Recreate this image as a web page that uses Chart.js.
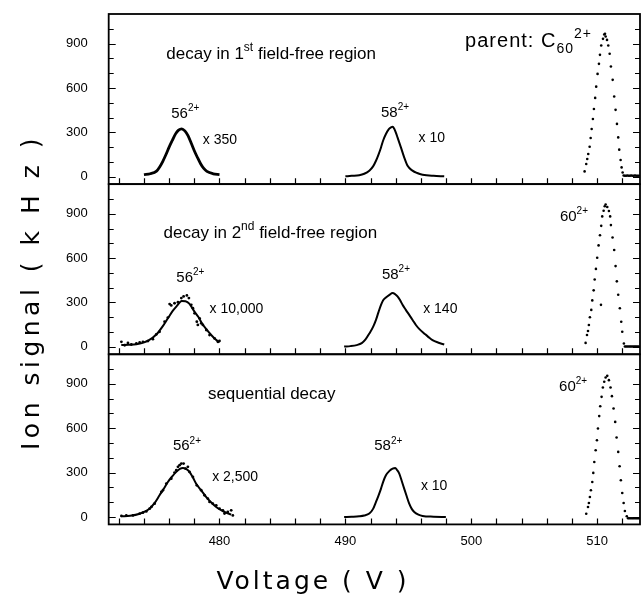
<!DOCTYPE html>
<html>
<head>
<meta charset="utf-8">
<script src="https://cdn.jsdelivr.net/npm/chart.js@4.4.1/dist/chart.umd.min.js"></script>
<style>
  html, body { margin: 0; padding: 0; background: #fff; }
  #wrap { width: 644px; height: 607px; }
</style>
</head>
<body>
<div id="wrap"><canvas id="ionChart" width="644" height="607"></canvas></div>
<script>
// axis ticks
const xTicks = [480, 490, 500, 510];
const xMinorTicks = [472, 474, 476, 478, 480, 482, 484, 486, 488, 490, 492, 494, 496, 498, 500, 502, 504, 506, 508, 510, 512];
const yTicks = [0, 300, 600, 900];
const yMinorTicks = [0, 100, 200, 300, 400, 500, 600, 700, 800, 900, 1000];

// top panel: decay in 1st field-free region
const top56Volt = [474.0, 474.5, 475.0, 475.25, 475.5, 475.75, 476.0, 476.25, 476.5, 476.75, 477.0, 477.25, 477.5, 477.75, 478.0, 478.25, 478.5, 478.75, 479.0, 479.5, 480.0];
const top56Sig  = [14, 20, 38, 66, 104, 150, 200, 245, 288, 315, 324, 310, 278, 228, 176, 130, 88, 56, 36, 20, 15];
const top58Volt = [490.0, 490.5, 491.1, 491.5, 491.9, 492.2, 492.43, 492.63, 492.83, 493.0, 493.22, 493.45, 493.62, 493.75, 493.88, 494.0, 494.14, 494.41, 494.67, 494.94, 495.33, 495.7, 496.13, 497.0, 497.85];
const top58Sig  = [3, 6, 10, 20, 41, 70, 108, 150, 198, 245, 289, 322, 334, 338, 325, 300, 266, 198, 131, 74, 41, 25, 14, 6, 3];
const top60Volt = [509.0, 509.13, 509.21, 509.29, 509.40, 509.48, 509.56, 509.66, 509.74, 509.84, 509.92, 510.03, 510.14, 510.22, 510.32, 510.46, 510.56, 510.62, 510.67, 510.78, 510.88, 510.99, 511.09, 511.23, 511.35, 511.46, 511.57, 511.67, 511.75, 511.86, 511.94, 512.02, 512.1, 512.2, 512.3, 512.4, 512.5, 512.6, 512.7, 512.8, 512.9, 513.0, 513.1, 513.2, 513.3];
const top60Sig  = [36, 86, 120, 154, 203, 262, 323, 390, 458, 533, 609, 695, 763, 824, 887, 932, 961, 966, 948, 925, 887, 831, 745, 655, 542, 452, 357, 266, 183, 113, 63, 29, 8, 7, 7, 8, 7, 7, 8, 7, 7, 8, 7, 7, 7];

// middle panel: decay in 2nd field-free region
const mid56FitVolt = [472.2, 472.8, 473.4, 473.9, 474.4, 475.0, 475.5, 475.9, 476.3, 476.6, 477.0, 477.3, 477.6, 478.0, 478.3, 478.6, 479.0, 479.4, 479.7, 480.0];
const mid56FitSig  = [12, 14, 18, 27, 45, 85, 140, 193, 245, 275, 310, 308, 292, 240, 205, 160, 115, 75, 50, 30];
const mid56Volt = [472.21, 472.47, 472.73, 473.0, 473.4, 473.66, 473.92, 474.32, 474.71, 474.98, 475.24, 475.64, 475.90, 476.04, 476.17, 476.43, 476.70, 476.97, 477.15, 477.41, 477.57, 477.76, 477.89, 478.02, 478.20, 478.28, 478.42, 478.55, 478.68, 478.95, 479.21, 479.61, 479.87, 480.0];
const mid56Sig  = [34, 11, 27, 16, 23, 30, 34, 39, 52, 84, 102, 170, 198, 289, 280, 295, 302, 330, 341, 348, 330, 284, 261, 227, 170, 148, 193, 159, 148, 114, 80, 57, 34, 40];
const mid58Volt = [489.9, 490.4, 490.9, 491.3, 491.6, 491.9, 492.2, 492.43, 492.63, 492.83, 493.0, 493.22, 493.5, 493.75, 493.95, 494.14, 494.35, 494.54, 494.8, 495.07, 495.35, 495.6, 495.9, 496.26, 496.6, 496.92, 497.4, 497.85];
const mid58Sig  = [2, 5, 12, 25, 50, 90, 135, 182, 235, 284, 315, 334, 352, 364, 356, 341, 315, 284, 250, 216, 180, 148, 118, 91, 66, 45, 28, 16];
const mid60Volt = [509.08, 509.19, 509.27, 509.34, 509.42, 509.53, 509.61, 509.72, 509.80, 509.90, 510.00, 510.11, 510.22, 510.30, 510.32, 510.40, 510.51, 510.60, 510.67, 510.80, 510.93, 511.03, 511.09, 511.22, 511.35, 511.46, 511.56, 511.67, 511.80, 511.91, 511.99, 512.12, 512.2, 512.3, 512.4, 512.5, 512.6, 512.7, 512.8, 512.9, 513.0, 513.1, 513.2, 513.3];
const mid60Sig  = [27, 80, 107, 148, 200, 250, 314, 382, 455, 527, 602, 686, 754, 284, 818, 882, 920, 950, 962, 945, 918, 882, 823, 739, 655, 546, 443, 352, 261, 170, 102, 23, 3, 2, 2, 3, 2, 2, 2, 3, 2, 2, 2, 2];

// bottom panel: sequential decay
const bot56FitVolt = [472.2, 472.9, 473.66, 474.45, 474.85, 475.24, 475.6, 475.9, 476.25, 476.57, 476.85, 477.09, 477.35, 477.62, 477.9, 478.15, 478.55, 478.95, 479.35, 479.74, 480.1, 480.4, 480.93];
const bot56FitSig  = [5, 8, 22, 56, 95, 147, 195, 237, 275, 305, 325, 332, 325, 305, 265, 225, 180, 135, 98, 68, 48, 34, 16];
const bot56Volt = [472.21, 472.60, 473.13, 473.66, 473.92, 474.19, 474.45, 474.59, 474.85, 475.38, 475.51, 475.78, 476.17, 476.43, 476.57, 476.70, 476.83, 476.97, 477.15, 477.31, 477.49, 477.62, 477.89, 478.20, 478.55, 478.81, 479.08, 479.21, 479.47, 479.74, 480.0, 480.27, 480.40, 480.66, 480.93, 481.06];
const bot56Sig  = [7, 11, 11, 23, 29, 38, 56, 68, 90, 169, 181, 226, 259, 300, 316, 339, 350, 361, 361, 327, 339, 305, 271, 214, 181, 147, 124, 102, 90, 79, 56, 45, 23, 34, 45, 11];
const bot58Volt = [489.9, 490.5, 491.1, 491.5, 491.9, 492.2, 492.43, 492.63, 492.83, 493.0, 493.22, 493.5, 493.75, 493.96, 494.1, 494.28, 494.47, 494.67, 494.87, 495.07, 495.27, 495.47, 495.8, 496.13, 497.0, 497.98];
const bot58Sig  = [0, 2, 5, 10, 23, 55, 102, 145, 192, 238, 282, 312, 327, 332, 318, 293, 245, 192, 140, 90, 55, 34, 16, 7, 2, 0];
const bot60Volt = [509.13, 509.27, 509.34, 509.42, 509.50, 509.61, 509.69, 509.77, 509.88, 509.98, 510.06, 510.16, 510.24, 510.35, 510.45, 510.56, 510.67, 510.80, 510.93, 511.06, 511.17, 511.30, 511.43, 511.54, 511.67, 511.78, 511.88, 511.99, 512.10, 512.20, 512.35, 512.45, 512.55, 512.65, 512.75, 512.85, 512.95, 513.05, 513.15, 513.25, 513.35];
const bot60Sig  = [22, 68, 95, 135, 181, 237, 298, 372, 451, 519, 598, 682, 749, 812, 875, 914, 943, 954, 925, 875, 817, 733, 643, 537, 440, 343, 248, 162, 95, 41, 5, -8, -8, -8, -8, -8, -8, -8, -8, -8, -8];

// text inside the panels: [scale, voltage, signal, parts, font size, letter spacing]
const panelNotes = [
  ['yTop', 475.78, 799, [['decay in 1', 0], ['st', 1], [' field-free region', 0]], 17, 0],
  ['yTop', 499.51, 875, [['parent: C', 0], ['60', -1], ['2+', 1]], 20, 1],
  ['yTop', 476.17, 397, [['56', 0], ['2+', 1]], 15, 0],
  ['yTop', 478.68, 221, [['x 350', 0]], 14, 0],
  ['yTop', 492.83, 406, [['58', 0], ['2+', 1]], 15, 0],
  ['yTop', 495.81, 232, [['x 10', 0]], 14, 0],
  ['yMid', 475.56, 739, [['decay in 2', 0], ['nd', 1], [' field-free region', 0]], 17, 0],
  ['yMid', 476.57, 439, [['56', 0], ['2+', 1]], 15, 0],
  ['yMid', 479.21, 227, [['x 10,000', 0]], 14, 0],
  ['yMid', 492.9, 462, [['58', 0], ['2+', 1]], 15, 0],
  ['yMid', 496.18, 227, [['x 140', 0]], 14, 0],
  ['yMid', 507.04, 852, [['60', 0], ['2+', 1]], 15, 0],
  ['yBot', 479.08, 801, [['sequential decay', 0]], 17, 0],
  ['yBot', 476.3, 451, [['56', 0], ['2+', 1]], 15, 0],
  ['yBot', 479.42, 242, [['x 2,500', 0]], 14, 0],
  ['yBot', 492.29, 451, [['58', 0], ['2+', 1]], 15, 0],
  ['yBot', 496.0, 185, [['x 10', 0]], 14, 0],
  ['yBot', 506.97, 851, [['60', 0], ['2+', 1]], 15, 0]
];

const panelIds = ['yTop', 'yMid', 'yBot'];
const labelFont = '"Liberation Sans", Arial, sans-serif';
const titleFont = '"DejaVu Sans", sans-serif';

function pts(volts, sigs) {
    return volts.map((v, i) => ({ x: v, y: sigs[i] }));
}

function fitLine(volts, sigs, axis, width) {
    return {
        data: pts(volts, sigs), yAxisID: axis, showLine: true,
        borderColor: '#000', borderWidth: width, pointRadius: 0,
        tension: 0.4, cubicInterpolationMode: 'monotone'
    };
}

function dots(volts, sigs, axis, r) {
    return {
        data: pts(volts, sigs), yAxisID: axis, showLine: false,
        backgroundColor: '#000', borderWidth: 0, pointRadius: r
    };
}

function drawRich(ctx, x, y, parts, size, spacing) {
    let cx = x;
    ctx.letterSpacing = spacing + 'px';
    parts.forEach(([txt, pos]) => {
        const fs = pos === 0 ? size : Math.round(size * 0.68);
        const dy = pos === 1 ? -size * 0.45 : (pos === -1 ? size * 0.28 : 0);
        ctx.font = `${fs}px ${labelFont}`;
        ctx.fillText(txt, cx, y + dy);
        cx += ctx.measureText(txt).width;
    });
    ctx.letterSpacing = '0px';
}

const panelFrames = {
    id: 'panelFrames',
    afterDatasetsDraw(chart) {
        const { ctx, chartArea, scales } = chart;
        const xs = scales.x;
        ctx.save();
        ctx.strokeStyle = '#000';
        ctx.fillStyle = '#000';
        panelIds.forEach(id => {
            const s = scales[id];
            ctx.lineWidth = 1.8;
            ctx.strokeRect(chartArea.left, s.top, chartArea.right - chartArea.left, s.bottom - s.top);
            ctx.lineWidth = 1.2;
            ctx.beginPath();
            yMinorTicks.forEach(v => {
                const py = Math.round(s.getPixelForValue(v)) + 0.5;
                const len = yTicks.includes(v) ? 7 : 5;
                ctx.moveTo(chartArea.left, py);
                ctx.lineTo(chartArea.left + len, py);
                ctx.moveTo(chartArea.right, py);
                ctx.lineTo(chartArea.right - len, py);
            });
            xMinorTicks.forEach(v => {
                const px = Math.round(xs.getPixelForValue(v)) + 0.5;
                ctx.moveTo(px, s.bottom);
                ctx.lineTo(px, s.bottom - 6);
            });
            ctx.stroke();
        });

        ctx.textAlign = 'left';
        ctx.textBaseline = 'alphabetic';
        panelNotes.forEach(([id, v, sig, parts, size, spacing]) => {
            drawRich(ctx, xs.getPixelForValue(v), scales[id].getPixelForValue(sig), parts, size, spacing);
        });

        // axis titles
        ctx.font = `25px ${titleFont}`;
        ctx.letterSpacing = '3px';
        ctx.textAlign = 'center';
        ctx.textBaseline = 'middle';
        ctx.fillText('Voltage ( V )', 313, 582);
        ctx.letterSpacing = '4.5px';
        ctx.translate(32, 292);
        ctx.rotate(-Math.PI / 2);
        ctx.fillText('Ion signal ( k H z )', 0, 0);
        ctx.restore();
    }
};

function panelScale() {
    return {
        type: 'linear', position: 'left', stack: 'panels', stackWeight: 1,
        min: -50, max: 1100,
        grid: { display: false, drawTicks: false },
        border: { display: false },
        afterBuildTicks: s => { s.ticks = yTicks.map(v => ({ value: v })); },
        // tick padding would otherwise be reserved above the top panel too
        afterFit: s => { s.paddingTop = 0; s.paddingBottom = 0; },
        ticks: { padding: 21, color: '#000', font: { family: labelFont, size: 13 } }
    };
}

new Chart(document.getElementById('ionChart'), {
    type: 'scatter',
    data: {
        datasets: [
            fitLine(top56Volt, top56Sig, 'yTop', 2.8),
            fitLine(top58Volt, top58Sig, 'yTop', 2),
            dots(top60Volt, top60Sig, 'yTop', 1.3),
            fitLine(mid56FitVolt, mid56FitSig, 'yMid', 2),
            dots(mid56Volt, mid56Sig, 'yMid', 1.4),
            fitLine(mid58Volt, mid58Sig, 'yMid', 2),
            dots(mid60Volt, mid60Sig, 'yMid', 1.3),
            fitLine(bot56FitVolt, bot56FitSig, 'yBot', 2),
            dots(bot56Volt, bot56Sig, 'yBot', 1.4),
            fitLine(bot58Volt, bot58Sig, 'yBot', 2),
            dots(bot60Volt, bot60Sig, 'yBot', 1.3)
        ]
    },
    options: {
        responsive: false,
        animation: false,
        layout: { padding: { left: 45, right: 3, top: 14, bottom: 49 } },
        plugins: { legend: { display: false }, tooltip: { enabled: false } },
        scales: {
            x: {
                type: 'linear', min: 471.2, max: 513.4,
                grid: { display: false, drawTicks: false },
                border: { display: false },
                afterBuildTicks: s => { s.ticks = xTicks.map(v => ({ value: v })); },
                ticks: { padding: 9, color: '#000', font: { family: labelFont, size: 13 } }
            },
            yBot: panelScale(),
            yMid: panelScale(),
            yTop: panelScale()
        }
    },
    plugins: [panelFrames]
});
</script>
</body>
</html>
